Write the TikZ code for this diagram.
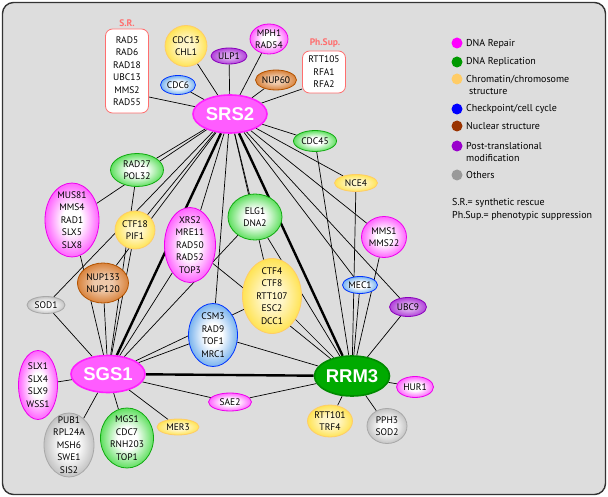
\documentclass[tikz,border=0pt]{standalone}
\usepackage{fontspec}
\setmainfont{PT Sans}
\newfontfamily\hubfont{Liberation Sans}
\usetikzlibrary{shapes.geometric}

\definecolor{panelgray}{HTML}{DDDDDD}
\definecolor{cRepair}{HTML}{FF1FFF}
\definecolor{cRepairD}{HTML}{EE00EE}
\definecolor{cRepairL}{HTML}{FF5CFF}
\definecolor{cRepl}{HTML}{1AD21A}
\definecolor{cReplD}{HTML}{11AA11}
\definecolor{cChrom}{HTML}{FFDB22}
\definecolor{cChromD}{HTML}{FFCC66}
\definecolor{cCheck}{HTML}{3F92E6}
\definecolor{cCheckD}{HTML}{0033FF}
\definecolor{cNuc}{HTML}{CF640C}
\definecolor{cNucD}{HTML}{B25200}
\definecolor{cPtm}{HTML}{9E16D0}
\definecolor{cPtmD}{HTML}{8A00BB}
\definecolor{cOther}{HTML}{A8A8A8}
\definecolor{cHubG}{HTML}{00AA00}
\definecolor{cHubGD}{HTML}{008A00}
\definecolor{cSR}{HTML}{FF6E6E}
% legend dots
\definecolor{lRepair}{HTML}{FF00FF}
\definecolor{lRepl}{HTML}{009900}
\definecolor{lChrom}{HTML}{FFCC66}
\definecolor{lCheck}{HTML}{0000FF}
\definecolor{lNuc}{HTML}{993300}
\definecolor{lPtm}{HTML}{9900CC}
\definecolor{lOther}{HTML}{999999}

\colorlet{gin}{white}
\colorlet{gout}{black}
\pgfdeclareradialshading[gin,gout]{genefill}{\pgfpoint{0bp}{0bp}}%
  {color(0bp)=(gin); color(9bp)=(gin); color(32bp)=(gout); color(50bp)=(gout)}

\newcommand\genefs{\fontsize{9.5}{12.5}\selectfont}
\newcommand\hubfs{\hubfont\bfseries\fontsize{18.5}{18.5}\selectfont}

\pgfdeclarelayer{panel}
\pgfdeclarelayer{links}
\pgfsetlayers{panel,links,main}

\tikzset{
  gene/.style n args={3}{ellipse, draw=#2, line width=0.8pt, inner sep=-40pt,
    /utils/exec={\colorlet{gin}{#3}\colorlet{gout}{#1}},
    shading=genefill, align=center, font=\genefs},
  gRepair/.style={gene={cRepair}{cRepairD}{white}},
  gRepl/.style={gene={cRepl}{cReplD}{white}},
  gChrom/.style={gene={cChrom}{cChromD}{cChrom!25!white}},
  gCheck/.style={gene={cCheck}{cCheckD}{white}},
  gNuc/.style={gene={cNuc}{cNucD}{cNuc!35!white}},
  gPtm/.style={gene={cPtm}{cPtmD}{cPtm!40!white}},
  gOther/.style={gene={cOther}{cOther}{white}},
  hub/.style 2 args={ellipse, fill=#1, draw=#2, line width=1.6pt, inner sep=-30pt,
    text=white, font=\hubfs},
  listbox/.style={rectangle, rounded corners=7pt, draw=cSR, fill=white,
    line width=0.8pt, inner sep=0pt, align=center, font=\genefs},
  boxlabel/.style={text=cSR, inner sep=0pt, font=\bfseries\fontsize{9.5}{9.5}\selectfont},
  link/.style={line width=0.7pt, black},
  strong/.style={line width=2.4pt, black},
  legdot/.style={circle, inner sep=0pt, minimum size=11pt, fill=#1},
  legtext/.style={anchor=west, align=left, inner sep=0pt, font=\fontsize{10}{12.2}\selectfont}
}

\begin{document}
\begin{tikzpicture}[x=1pt,y=-1pt]
\useasboundingbox (0,0) rectangle (608,497);

\begin{pgfonlayer}{panel}
\draw[draw=black!80, line width=1.4pt, fill=panelgray, rounded corners=11pt]
  (2.5,2.5) rectangle (605.5,494.5);
\end{pgfonlayer}

% the three helicases
\node[hub={cRepairL}{cRepair}, minimum width=74pt, minimum height=38pt] (srs2) at (230,114) {SRS2};
\node[hub={cRepairL}{cRepair}, minimum width=74pt, minimum height=37pt] (sgs1) at (108,374) {SGS1};
\node[hub={cHubG}{cHubGD}, minimum width=75pt, minimum height=40pt] (rrm3) at (352,376) {RRM3};

% boxed groups
\node[listbox, minimum width=43pt, minimum height=84pt] (sr) at (127,71)
  {RAD5\\RAD6\\RAD18\\UBC13\\MMS2\\RAD55};
\node[boxlabel] (srlab) at (127,23) {S.R.};
\node[listbox, minimum width=43pt, minimum height=42pt] (phsup) at (324,72)
  {RTT105\\RFA1\\RFA2};
\node[boxlabel] (phlab) at (325,43) {Ph.Sup.};

% around SRS2
\node[gChrom, minimum width=42pt, minimum height=41pt] (cdc13) at (186,46) {CDC13\\CHL1};
\node[gPtm, minimum width=36pt, minimum height=16pt] (ulp1) at (229,56) {ULP1};
\node[gRepair, minimum width=38pt, minimum height=30pt] (mph1) at (269,39) {MPH1\\RAD54};
\node[gCheck, minimum width=35pt, minimum height=19pt] (cdc6) at (178,85) {CDC6};
\node[gNuc, minimum width=41pt, minimum height=20pt] (nup60) at (276,80) {NUP60};
\node[gRepl, minimum width=43pt, minimum height=21pt] (cdc45) at (315,141) {CDC45};

% right side
\node[gChrom, minimum width=43pt, minimum height=17pt] (nce4) at (356,183) {NCE4};
\node[gRepair, minimum width=45pt, minimum height=41pt] (mms1) at (384,237) {MMS1\\MMS22};
\node[gCheck, minimum width=35pt, minimum height=17pt] (mec1) at (360,285) {MEC1};
\node[gPtm, minimum width=37pt, minimum height=19pt] (ubc9) at (408,307) {UBC9};

% left side
\node[gRepl, minimum width=53pt, minimum height=33pt] (rad27) at (137,170) {RAD27\\POL32};
\node[gRepair, minimum width=54pt, minimum height=74pt] (mus81) at (72,220) {MUS81\\MMS4\\RAD1\\SLX5\\SLX8};
\node[gChrom, minimum width=40pt, minimum height=38pt] (ctf18) at (135,230) {CTF18\\PIF1};
\node[gNuc, minimum width=51pt, minimum height=40pt] (nup133) at (103,283) {NUP133\\NUP120};
\node[gOther, minimum width=38pt, minimum height=17pt] (sod1) at (46,305) {SOD1};

% middle
\node[gRepair, minimum width=51pt, minimum height=75pt] (xrs2) at (190,245) {XRS2\\MRE11\\RAD50\\RAD52\\TOP3};
\node[gRepl, minimum width=54pt, minimum height=46pt] (elg1) at (255,217) {ELG1\\DNA2};
\node[gChrom, minimum width=59pt, minimum height=75pt] (ctf4) at (272,296) {CTF4\\CTF8\\RTT107\\ESC2\\DCC1};
\node[gCheck, minimum width=49pt, minimum height=63pt] (csm3) at (213,335) {CSM3\\RAD9\\TOF1\\MRC1};

% bottom
\node[gRepair, minimum width=39pt, minimum height=69pt] (slx1) at (38,385) {SLX1\\SLX4\\SLX9\\WSS1};
\node[gOther, minimum width=50pt, minimum height=64pt] (pub1) at (69,445) {PUB1\\RPL24A\\MSH6\\SWE1\\SIS2};
\node[gRepl, minimum width=53pt, minimum height=60pt] (mgs1) at (127,438) {MGS1\\CDC7\\RNH203\\TOP1};
\node[gChrom, minimum width=42pt, minimum height=16pt] (mer3) at (178,427) {MER3};
\node[gRepair, minimum width=43pt, minimum height=18pt] (sae2) at (230,402) {SAE2};
\node[gRepair, minimum width=37pt, minimum height=21pt] (hur1) at (415,387) {HUR1};
\node[gChrom, minimum width=45pt, minimum height=32pt] (rtt101) at (330,421) {RTT101\\TRF4};
\node[gOther, minimum width=40pt, minimum height=35pt] (pph3) at (387,426) {PPH3\\SOD2};

% links
\begin{pgfonlayer}{links}
\draw[link] ([yshift=-26pt]sr.east) -- (srs2);
\draw[link] (srs2) -- ([yshift=-17pt]phsup.west);
\foreach \g in {cdc13,ulp1,mph1,cdc6,nup60,cdc45,nce4,mms1,mec1,ubc9,
                rad27,mus81,ctf18,nup133,sod1,xrs2,elg1,ctf4,csm3}
  \draw[link] (srs2) -- (\g);
\foreach \g in {sod1,mus81,nup133,ctf18,rad27,xrs2,elg1,ctf4,csm3,
                slx1,pub1,mgs1,mer3,sae2}
  \draw[link] (sgs1) -- (\g);
\foreach \g in {cdc45,nce4,mms1,mec1,ubc9,elg1,ctf4,csm3,xrs2,
                sae2,hur1,rtt101,pph3}
  \draw[link] (rrm3) -- (\g);
\draw[strong] (srs2) -- (sgs1);
\draw[strong] (srs2) -- (rrm3);
\draw[strong] (sgs1) -- (rrm3);
\end{pgfonlayer}

% legend
\node[legdot=lRepair] (d1) at (457,43) {};
\node[legtext] (t1) at (466,44) {DNA Repair};
\node[legdot=lRepl] (d2) at (457,62) {};
\node[legtext] (t2) at (466,62) {DNA Replication};
\node[legdot=lChrom] (d3) at (457,79) {};
\node[legtext] (t3) at (466,85) {Chromatin/chromosome\\\hspace*{3pt}structure};
\node[legdot=lCheck] (d4) at (457,109) {};
\node[legtext] (t4) at (466,109) {Checkpoint/cell cycle};
\node[legdot=lNuc] (d5) at (457,126) {};
\node[legtext] (t5) at (466,126) {Nuclear structure};
\node[legdot=lPtm] (d6) at (457,146) {};
\node[legtext] (t6) at (466,152) {Post-translational\\modification};
\node[legdot=lOther] (d7) at (457,175) {};
\node[legtext] (t7) at (466,175) {Others};
\node[legtext] (n1) at (452,203) {S.R.= synthetic rescue};
\node[legtext] (n2) at (452,216) {Ph.Sup.= phenotypic suppression};

\end{tikzpicture}
\end{document}
